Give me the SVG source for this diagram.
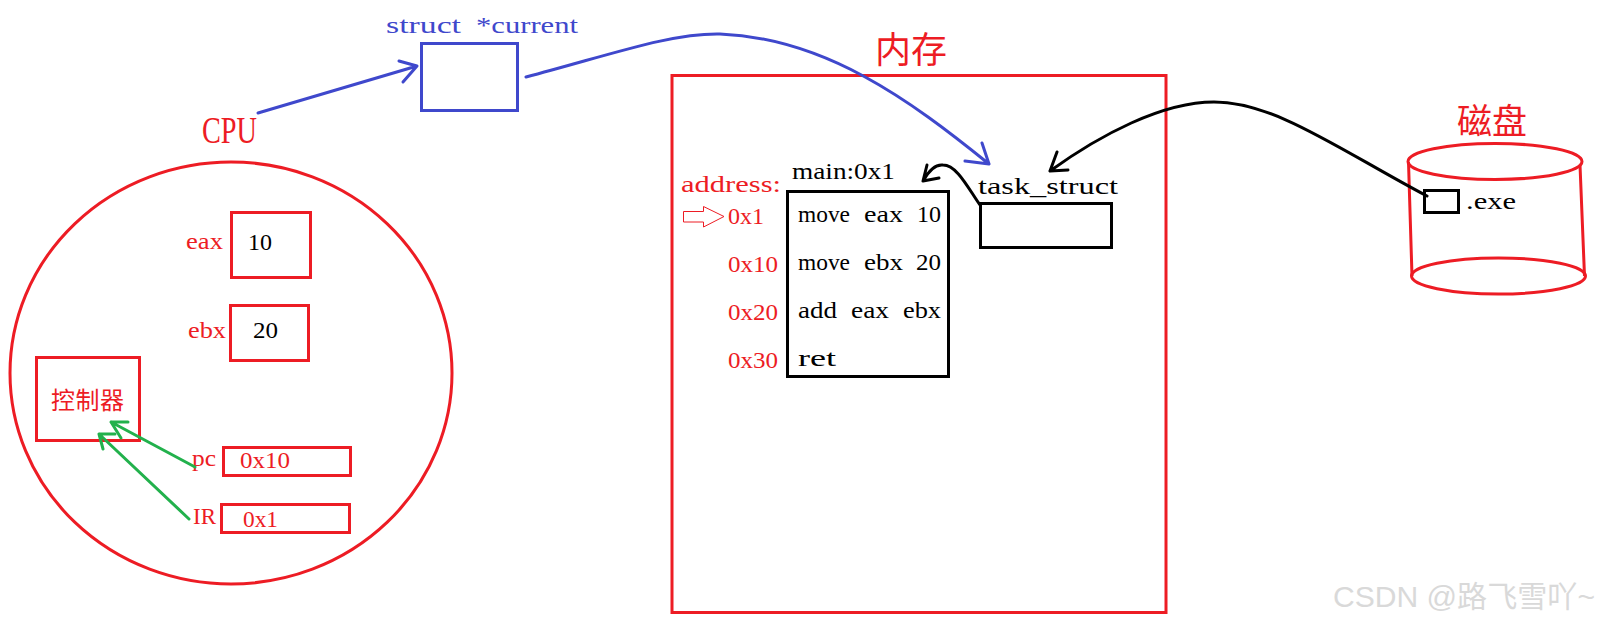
<svg xmlns="http://www.w3.org/2000/svg" width="1600" height="624" viewBox="0 0 1600 624">
<style>
text{font-family:"Liberation Serif","Noto Sans CJK SC",serif;font-size:24px;white-space:pre}
.r{fill:#ED1C24}.k{fill:#000}.b{fill:#3F48CC}
.cjk{font-family:"Noto Sans CJK SC",sans-serif}
.sr,.sk,.sb,.sg{fill:none;stroke-width:3}
.sr{stroke:#ED1C24}.sk{stroke:#000}.sb{stroke:#3F48CC}.sg{stroke:#22B14C}
.c{fill:none;stroke-width:3;stroke-linecap:round;stroke-linejoin:round}
</style>
<rect width="1600" height="624" fill="#fff"/>
<g id="cpu">
<text class="r" x="202" y="143" style="font-size:38px" textLength="55" lengthAdjust="spacingAndGlyphs">CPU</text>
<ellipse class="sr" cx="231" cy="373" rx="221" ry="211"/>
</g>
<g id="eax">
<rect class="sr" x="231.500" y="212.500" width="79" height="65"/>
<text class="r" x="186" y="249" textLength="37" lengthAdjust="spacingAndGlyphs">eax</text>
<text class="k" x="248" y="250" textLength="24" lengthAdjust="spacingAndGlyphs">10</text>
</g>
<g id="ebx">
<rect class="sr" x="230.500" y="305.500" width="78" height="55"/>
<text class="r" x="188" y="338" textLength="38" lengthAdjust="spacingAndGlyphs">ebx</text>
<text class="k" x="253" y="338" textLength="25" lengthAdjust="spacingAndGlyphs">20</text>
</g>
<g id="controller">
<rect class="sr" x="36.500" y="357.500" width="103" height="83"/>
<text class="r cjk" x="51" y="409" textLength="73">控制器</text>
</g>
<g id="pc">
<rect class="sr" x="223.500" y="447.500" width="127" height="28"/>
<text class="r" x="192" y="466" textLength="24" lengthAdjust="spacingAndGlyphs">pc</text>
<text class="r" x="240" y="468" textLength="50" lengthAdjust="spacingAndGlyphs">0x10</text>
</g>
<g id="ir">
<rect class="sr" x="221.500" y="504.500" width="128" height="28"/>
<text class="r" x="193" y="524" textLength="23" lengthAdjust="spacingAndGlyphs">IR</text>
<text class="r" x="243" y="527" textLength="35" lengthAdjust="spacingAndGlyphs">0x1</text>
</g>
<g id="current">
<text class="b" y="33"><tspan x="386" textLength="75" lengthAdjust="spacingAndGlyphs">struct</tspan> <tspan x="476" textLength="102" lengthAdjust="spacingAndGlyphs">*current</tspan></text>
<rect class="sb" x="421.500" y="43.500" width="96" height="67"/>
</g>
<g id="memory">
<rect class="sr" x="672" y="75.500" width="494" height="537"/>
<text class="r cjk" x="875" y="63" style="font-size:36px">内存</text>
<text class="r" x="681" y="192" textLength="100" lengthAdjust="spacingAndGlyphs">address:</text>
<polygon points="683.500,211.500 703.500,211.500 703.500,206.500 724,216.500 703.500,227 703.500,222 683.500,222" fill="none" stroke="#ED1C24" stroke-width="1"/>
<text class="r" x="728" y="224" textLength="36" lengthAdjust="spacingAndGlyphs">0x1</text>
<text class="r" x="728" y="272" textLength="50" lengthAdjust="spacingAndGlyphs">0x10</text>
<text class="r" x="728" y="320" textLength="50" lengthAdjust="spacingAndGlyphs">0x20</text>
<text class="r" x="728" y="368" textLength="50" lengthAdjust="spacingAndGlyphs">0x30</text>
</g>
<g id="code">
<text class="k" x="792" y="179" textLength="103" lengthAdjust="spacingAndGlyphs">main:0x1</text>
<rect class="sk" x="787.500" y="191.500" width="161" height="185"/>
<text class="k" y="222"><tspan x="798" textLength="52" lengthAdjust="spacingAndGlyphs">move</tspan> <tspan x="864" textLength="39" lengthAdjust="spacingAndGlyphs">eax</tspan> <tspan x="917" textLength="24" lengthAdjust="spacingAndGlyphs">10</tspan></text>
<text class="k" y="270"><tspan x="798" textLength="52" lengthAdjust="spacingAndGlyphs">move</tspan> <tspan x="864" textLength="39" lengthAdjust="spacingAndGlyphs">ebx</tspan> <tspan x="916" textLength="25" lengthAdjust="spacingAndGlyphs">20</tspan></text>
<text class="k" y="318"><tspan x="798" textLength="39" lengthAdjust="spacingAndGlyphs">add</tspan> <tspan x="851" textLength="38" lengthAdjust="spacingAndGlyphs">eax</tspan> <tspan x="903" textLength="38" lengthAdjust="spacingAndGlyphs">ebx</tspan></text>
<text class="k" x="798" y="366" textLength="38" lengthAdjust="spacingAndGlyphs">ret</text>
</g>
<g id="task_struct">
<text class="k" x="978" y="194" textLength="140" lengthAdjust="spacingAndGlyphs">task_struct</text>
<rect class="sk" x="980.500" y="203.500" width="131" height="44"/>
</g>
<g id="disk">
<text class="r cjk" x="1457" y="134" style="font-size:35px">磁盘</text>
<ellipse class="sr" cx="1495" cy="161.500" rx="87" ry="18"/>
<ellipse class="sr" cx="1498.500" cy="276" rx="87" ry="18"/>
<path class="sr" d="M1408.500 162L1412 276M1580 165L1584.500 276"/>
<rect class="sk" x="1424.500" y="190.500" width="34" height="22"/>
<text class="k" y="209"><tspan x="1466" textLength="50" lengthAdjust="spacingAndGlyphs">.exe</tspan></text>
</g>
<g id="connectors">
<path class="c sb" d="M258 113L417 66M399 61L417 66L403 82"/>
<path class="c sb" d="M526 77C610 55 670 33 720 34C825 38 910 100 989 164M965 161L989 164L982 143"/>
<path class="c sk" d="M1427 196C1340 150 1275 102 1214 102C1162 102 1100 135 1050 171M1057 152L1050 171L1068 170"/>
<path class="c sk" d="M980 205C968 188 957 165 943 165C935 164 928 172 923 181M927 165L923 181L939 178"/>
<path class="c sg" d="M195 467L111 422M128 422L111 422L121 438"/>
<path class="c sg" d="M189 519L99 434M115 434L99 434L103 449"/>
</g>
<g id="watermark">
<text x="1333" y="607" fill="#d9d9d9" textLength="262" lengthAdjust="spacingAndGlyphs" style="font-family:'Liberation Sans','Noto Sans CJK SC',sans-serif;font-size:30px">CSDN @路飞雪吖~</text>
</g>
</svg>
